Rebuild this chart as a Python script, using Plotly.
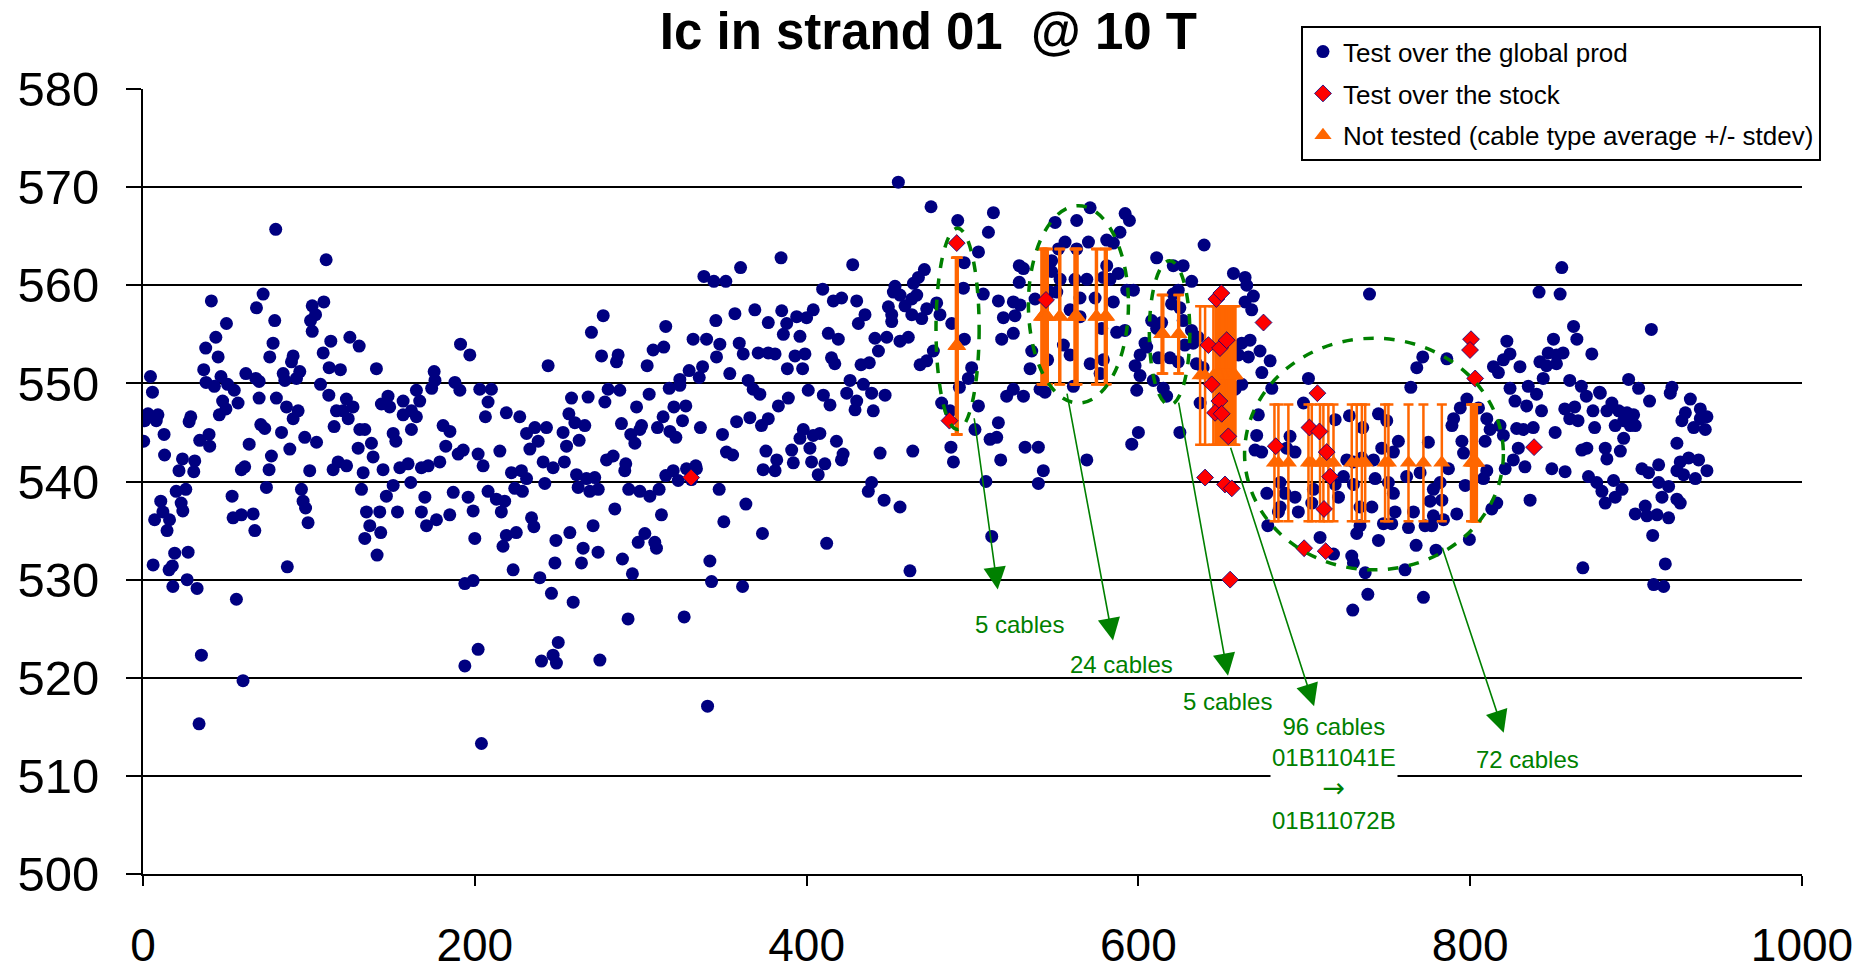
import plotly.graph_objects as go

# ---------------- data ----------------
# Test over the global prod (x = cable index, y = Ic [A]), by x-range
prod_a = [(80,565.7),(110.4,562.6),(41.2,558.4),(72.4,559.1),(68.4,557.7),(50.3,556.1),(79.4,556.4),(102,557.9),(104,557),(101,556.4),(102,555.3),(109,558.3),(43.9,554.7),(37.8,553.6),(45.3,552.7),(78.4,554.1),(76.4,552.7),(90.5,552.8),(89.5,552.2),(113.2,554.3),(108.6,553.1),(112.2,551.6),(36.6,551.4),(4.5,550.7),(5.7,549.1),(38,550.1),(43,549.7),(47,550.7),(51,549.9),(55,549.3),(62,551),(68,550.5),(70,550.2),(84.5,551),(85.5,550.3),(94.5,551.2),(92.5,550.5),(107,549.9),(112,548.8),(70,548.5),(48,548.2),(50,547.4),(46,546.8),(57.3,548),(80.4,548.5),(86.5,547.6),(93.5,547.2),(90.5,546.4),(116.6,547.2),(115.2,545.6),(3,546.9),(1,546.2),(9,546.8),(8,546.2),(28.8,546.6),(27.8,546.1),(0.4,544.1),(12.7,544.8),(34.2,544.2),(39.8,544.8),(40.2,543.6),(71,545.8),(73.4,545.4),(83.5,545),(64,543.8),(88.5,543.3),(97.5,544.5),(104.6,544),(77.4,542.6),(76,541.2),(13,542.7),(23.8,542.3),(31.2,542.1),(21.7,541.1),(30.6,541),(59.3,541.2),(61.3,541.5),(100.5,541.1),(114.6,541.2),(117.6,542),(74.4,539.4),(20,539),(25.8,539.2),(10.7,538),(23,537.8),(24,537),(7,536.1),(12,536.9),(16,536.1),(14.5,535),(53.7,538.5),(54.3,536.3),(59.3,536.6),(66.4,536.7),(67.4,535),(95.5,539.2),(96.5,538),(98,537.3),(99.5,535.8),(19.1,532.7),(27.2,532.8),(6.1,531.5),(15.7,531),(17.7,531.4),(87,531.3),(18,529.3),(26.6,530),(32.6,529.1),(56.3,528),(35.2,522.3),(60.3,519.7),(33.8,515.3),(119,551.4),(122.6,548.4),(120.6,547.2),(123.7,546.4),(122.7,541.6),(124.7,554.7)]
prod_b = [(130.3,553.8),(140.7,551.5),(191.4,554),(197,552.9),(175.5,551.2),(176,550.3),(174,549.5),(244.2,551.8),(188,550.1),(191,549.3),(203,549.4),(210,549.4),(208,548.1),(126.6,547.6),(130.7,545.3),(133.7,545.3),(143.7,547.9),(147.7,548.7),(148.7,547.6),(156.8,548.2),(156.8,546.8),(161.8,547.2),(164.8,546.6),(164.8,549.3),(166.8,548.2),(161.8,545.3),(150.8,544.9),(152.4,544.1),(180.9,545.7),(185,545.1),(182.5,543.6),(206.4,546.6),(219,547),(227.1,546.6),(231.2,544.9),(236.2,545.5),(243.2,545.5),(215.1,543.1),(129.7,543.4),(137.7,543.9),(138.7,542.5),(190,542.8),(193,543.2),(202,542.8),(205,541.6),(178.9,542),(171.9,541.6),(167.8,541.4),(154.8,541.4),(159.8,541.8),(132.7,540.9),(144.7,541.2),(233.2,543.3),(238.2,544.1),(222.1,540.9),(228.1,541.1),(231.2,540.3),(241.2,542),(247.2,541.4),(131.7,539.2),(150.8,539.6),(146.7,538.5),(161.4,539.9),(187,538.9),(196,538.4),(199,537),(208,539),(213,538.2),(218,538),(216,536.9),(224.1,539.3),(228.7,539),(242.2,539.8),(169.9,538.4),(167.8,536.9),(170.9,535.5),(176.9,536.1),(184.9,536.6),(134.7,536.9),(136.7,535.5),(142.7,536.9),(153.4,536.9),(133.7,534.2),(143.3,534.8),(141.1,532.5),(200,534.2),(234.2,536.3),(235.6,535.4),(219,534.5),(225,534.8),(217,533.4),(248.9,534),(248.3,531.7),(223.1,531),(239.2,530.2),(246.2,528.6),(194,529.6),(199,529.9),(202,522.9),(194,521.2),(240.2,521.7),(247.2,522.3),(250.3,523.6),(249.2,521.5),(204,513.3)]
prod_c = [(360.2,561.8),(338.1,560.9),(344.1,560.4),(351.3,560.4),(277.4,556.9),(270.3,555.2),(315.1,555.8),(356.8,557.1),(368.8,557.5),(376.9,556.2),(345.3,556.4),(331.6,554.5),(339.7,554.5),(347.7,554),(359.4,554.1),(361.8,553),(370.8,553.1),(376.9,553.1),(307.5,553.4),(313.9,553.7),(276.4,552.8),(286.4,552.9),(285.4,552.2),(303.9,551.8),(345.7,552.7),(329.2,551.3),(337.3,551.7),(335.3,550.6),(353.7,551),(323.6,550.4),(323.6,549.8),(317.2,549.5),(364.8,550.3),(367.8,549.4),(371.8,548.9),(280.4,549.4),(287.4,549.3),(278.4,548.1),(305.1,548.9),(258.3,548.5),(268.3,548.6),(297.5,547.6),(320,547.6),(327.2,547.7),(256.7,546.9),(313.5,546.6),(325.2,546.2),(365.8,546.5),(357.8,546.1),(372.8,545.7),(376.9,546.4),(260.3,546),(266.3,545.7),(288.4,545.9),(300.5,545.7),(299.5,545.3),(310.1,545.5),(317.6,545.1),(321.2,544.5),(336,545.5),(349.3,544.8),(253.2,545),(262.9,544.2),(294,544.8),(296.5,543.9),(255.3,543.6),(375.5,543.1),(351.7,543),(355.4,542.7),(279.4,542.2),(283.4,542.6),(291,541.8),(290.4,541.1),(254,542),(373.8,541.2),(319.6,541.1),(315.1,540.6),(322.6,540.1),(327.6,541.3),(333.2,541.6),(333.6,541.3),(330.6,540.2),(261.3,540.7),(267.3,540.3),(272.3,540.4),(262.3,539.4),(269.3,539),(274.4,539.2),(292.8,539.2),(299.5,539),(305.5,538.5),(311.1,539.2),(347.3,539.2),(363.4,537.7),(284.4,537.2),(312.5,536.6),(350.1,535.9),(271.3,535.5),(373.4,534.7),(257.3,534.8),(265.3,533.2),(264.3,531.7),(274.3,532.8),(298.5,533.8),(302.5,534.7),(308.5,533.8),(309.5,533.2),(289,532.1),(295,530.6),(341.7,531.9),(342.7,529.8),(361.4,529.3),(259.3,527.7),(292.4,526),(326.2,526.2),(275.4,521.8),(340.3,517.1)]
prod_d = [(455.3,570.5),(475,568),(491.1,566.6),(384.6,562.8),(427.8,562.1),(409.7,559.6),(471,561.6),(467.4,560.8),(464.4,560.2),(466.4,559),(463.4,558.6),(453.3,559.9),(452.3,559.3),(456.3,559),(459.3,557.9),(463.4,557),(469.4,556.6),(472.4,557.6),(478.4,558.2),(480.4,557),(449.3,557.8),(451.3,557),(451.3,556.3),(416.1,558.4),(421.1,558.7),(430.2,558.4),(404,557.5),(400,556.7),(394,556.8),(388,556.1),(386,555),(385,557.4),(435.2,557),(431.2,556.1),(396,554.8),(413.1,555.1),(419.1,554.5),(441.2,554.6),(448.3,554.7),(443.3,553.3),(456.3,554.3),(461.3,554.7),(381,553),(399,553),(393,552.8),(415,552.6),(417,552),(432.8,551.9),(437.8,552.1),(388.4,551.5),(397.6,551.5),(468.4,551.9),(472.4,552.3),(476.4,553.3),(487.5,556.1),(495.1,554.5),(495,562.3),(494.5,559.7),(503.6,563.4),(499.5,551.6),(497.5,550.5),(492.1,549.6),(383,547.7),(389,548.5),(401,549.3),(410.1,548.8),(414.1,547.8),(426.2,550.3),(424.2,549),(430.2,548.2),(434.2,549.9),(429.2,547.3),(439.2,549),(447.3,548.8),(440.2,547.2),(481.4,548),(486.5,547.2),(503.6,547.7),(501.5,545.3),(398,545.3),(396,544.4),(404,544.7),(408,544.9),(402,543.4),(418,544.1),(422,542.8),(421,542.2),(382,542.2),(381,541.1),(391,543.2),(392,541.9),(403,542),(407,540.7),(411,541.8),(444.3,542.9),(464,543.1),(487,543.5),(488.5,542),(439.2,539.9),(437.2,539),(446.7,538.1),(456.3,537.4),(412.1,533.7),(462.3,530.9)]
prod_e = [(512.6,567.4),(509.6,565.4),(506.5,559.1),(515.6,558.4),(524.6,558.3),(528.7,558),(518.6,556.7),(525.6,556.9),(517.6,554.5),(524.6,555.1),(510.6,544.3),(514.6,544.5),(515.6,546),(517,542.2),(508.1,540),(511.6,534.4),(528.2,562),(530.7,561.7),(528.2,560.3),(520.6,548.7),(524.6,549.4),(530.7,548.7),(540.7,549.4),(543.7,549.1),(531.7,543.5),(539.7,543.5),(542.7,541.1),(539.7,539.8),(568.9,542.2),(537.7,558.6),(535.7,553.3),(534.7,551.5),(545.3,552.4),(549.8,566.4),(562.8,566.6),(570.9,567.9),(592,567.3),(594.6,566.6),(555.8,564.4),(551.8,563.7),(562.8,563.7),(569.9,564.4),(580.9,564.6),(584.9,564.3),(588.9,565.4),(547.7,562.5),(547.7,561.4),(552.8,560.6),(561.8,560.6),(568.9,560.6),(578.9,560.8),(582.9,560.6),(580.9,562),(587.9,561.2),(593,559.5),(597,559.5),(584.9,558.3),(573.9,558.7),(564.8,558.7),(558.8,557.5),(564.8,556.8),(546.7,559.3),(550.8,559.3),(577.9,555.6),(586.9,555.2),(591.9,555.4),(554.8,553.9),(558.8,552.9),(570.9,552),(576.9,551),(578.9,552.4),(560.8,549.7),(599,549.3),(601,550.8),(598,551.8),(604,554.1),(601,552.9),(600,545),(596,543.8),(611,562.8),(608,556.4),(611,555.6),(614,556.2),(605,553.7),(612,552.6),(619,552.6),(609,550.3),(615,549.5),(617,548.7),(621,562),(627,562),(621,559.1),(620,558.1),(624,559.5),(625,557.7),(627,556.4),(624,552.2),(625,545)]
prod_f = [(639.6,564.1),(632.1,560.4),(657.3,561.2),(664.3,560.8),(665.3,560),(669.3,558.9),(664.3,558.3),(668.3,557.5),(739.3,559.1),(632,555.4),(628,553.9),(633,554.1),(636,554.7),(635,552),(639,551.6),(637.2,548),(657.3,553.8),(662.3,554.1),(667.3,554.4),(660.3,552.9),(666.3,552.7),(673.3,553.3),(679.4,552.3),(674.4,551.1),(680.4,549.5),(658.3,549.4),(662.3,549.9),(672.3,546.8),(671.3,544.7),(670.3,543.2),(674.3,543),(702.5,550.5),(699.5,548),(691.4,544.6),(689.4,543.4),(694.4,543),(718.6,546.3),(727.2,546.7),(735.2,545.5),(744.7,546.9),(749.7,546.2),(746.7,543.4),(753.7,543),(756.7,544.1),(725.6,542.2),(729.6,542),(734.7,542.4),(741.7,542.2),(685.4,539.9),(688.4,538.8),(694.4,538.4),(696.4,536.9),(685.4,537.4),(684.4,536.9),(677.4,538.8),(705.5,539.2),(704.5,537.8),(718.6,539.7),(720.6,538.4),(723.6,540.5),(729.6,539.7),(733.6,537.4),(740.7,537.4),(742.7,540.3),(750.7,539.9),(753.7,538.8),(747.7,535.7),(752.7,535.7),(744.7,534),(731.6,534.7),(733.6,535.5),(678,535.5),(709.5,534.3),(717.6,532.6),(728.6,532.4),(729.6,531.7),(736.7,530.7),(738.3,528.5),(729.2,526.9)]
prod_g = [(855.2,561.8),(841.5,559.3),(854.2,559.1),(862.3,555.8),(864.3,554.5),(850.2,554.5),(873.3,553),(822.1,554.3),(824,553),(820,552.4),(830,551.7),(814,551.7),(817,551.1),(847,553.1),(852,552.9),(856,553.1),(842,552.2),(846,551.8),(852,552),(844,550.5),(860,550.3),(867,549.7),(870,548.7),(878,549.1),(824,549.5),(827,548.2),(834,547.7),(835,549.7),(840,548.9),(843,547.2),(857,547.4),(863,547.6),(860,546.4),(865,546.2),(874,547.2),(875,545.5),(851.2,545),(828,545.4),(832,545.3),(838,545.5),(829,543.4),(833,541.5),(826,542.2),(821.1,541.3),(849.2,541.3),(857.2,541),(867.3,543.2),(870.3,543.4),(871.3,540.5),(876.3,539.9),(836.1,538.1),(867.9,531.2),(764.2,549.6),(771.4,552.7),(767.8,551.6),(785.9,552.5),(798,548.4),(794,547.5),(805,547.5),(789,545.7),(790,546.4),(795,544.1),(796,542.9),(810,546.4),(812,545.3),(809,544.1),(820,544.7),(818,545.7),(774.8,544),(761.7,540.5),(769.8,540.9),(777.8,539.2),(781.9,539.9),(786.9,541.3),(797,539.6),(810,541.1),(808,540.3),(754.7,536.9),(765.8,536.9),(762.8,535.3),(775.8,538),(782.9,538.1),(777.8,536.5),(783.9,536.1),(791.9,536.7),(776.8,535.5),(772.8,535.5),(816,537.8),(813,537.2),(767.4,533.5),(779.4,533),(799.5,534.1),(760.7,531),(771.8,528.2)]
prod_h = [(909.2,555.5),(895.5,550.4),(901.5,549.5),(908.1,548.2),(921.6,549.6),(920.6,549),(932.7,548.4),(938.7,547.4),(942.7,546.6),(929.7,547),(927.6,546.2),(934.7,545.5),(941.7,545.3),(938.7,546.4),(878.4,549),(885.4,548),(882.4,547.2),(889.5,547.2),(894.5,547),(898.5,546.8),(887.4,545.7),(892.5,546.2),(896.5,545.7),(899.5,545.7),(892.5,544.4),(881.4,543.4),(882.4,542.3),(890.5,543.1),(924.6,543.9),(903.5,541.3),(907.5,540.9),(913.6,541.7),(924.6,541.1),(926.6,542),(931.7,542.4),(937.7,542.2),(942.7,541.1),(928.6,540.7),(935.7,540.3),(913.6,539.9),(919.6,539.5),(915.6,538.4),(924.6,538.2),(926.6,537.8),(886.4,540.1),(891.5,539.2),(879.4,539),(881.4,537.8),(887.4,538.4),(905.5,537.5),(899.5,536.7),(906.5,536.5),(912.6,536.6),(919.6,536.3),(910,534.5),(917.6,531.6),(910.6,529.5),(916.6,529.3)]

# Test over the stock
stock_x = [330.4, 490.5, 486.1, 544.3, 647, 650, 675.4, 642.2, 649.2, 653.2, 644.2, 648.8, 646.2, 650.2, 654.2, 640.2, 652.2, 656.3, 655.3,
           682.8, 707.9, 703.1, 709.1, 713.5, 715.6, 711.9, 699.9, 712.9, 800.5, 799.9, 803, 838.5]
stock_y = [540.4, 564.3, 546.2, 558.5, 558.6, 559.2, 556.2, 553.9, 553.6, 554.4, 549.9, 548.2, 547.0, 546.9, 544.6, 540.4, 539.7, 539.3, 530.0,
           543.6, 549.0, 545.5, 545.1, 543.0, 540.5, 537.2, 533.2, 532.9, 554.5, 553.4, 550.5, 543.5]

# Not tested: cable type average +/- stdev, one value per cable group
grp1_x = [490.0, 490.5, 491.0, 490.5, 491.0]                       # 5 cables
grp2_x = [541.7, 541.7, 542.2, 542.7, 543.5, 544.5, 545.3, 545.3, 552.4, 552.4, 552.9,
          561.5, 562.0, 562.4, 562.4, 562.9, 563.3, 574.5, 574.5, 575.0, 579.9, 579.9, 580.4, 580.9]  # 24 cables
grp3_x = [614.0, 614.5, 615.0, 624.0, 624.5]                       # 5 cables
grp4_x = [637.2, 640.2, 645.2, 646.5, 647.5, 648.5, 649.5, 650.5, 651.5, 652.5, 653.5, 654.5, 655.5, 656.5, 657.5, 658.5]  # 96 cables
grp5_x = [682.0, 684.4, 690.4, 702.5, 704.5, 709.5, 711.5, 714.5, 717.6, 728.6, 731.6, 734.7, 736.7,
          748.7, 750.7, 762.8, 771.8, 782.9, 800.5, 801.5, 802.5, 803.5, 804.0]  # 72 cables
grp_mean = [553.8, 556.8, 555.0, 550.8, 541.9]
grp_sd = [9.0, 6.9, 4.0, 7.05, 5.95]

title_text = "Ic in strand 01  @ 10 T"
legend_names = ["Test over the global prod", "Test over the stock", "Not tested (cable type average +/- stdev)"]
y_ticks = [500, 510, 520, 530, 540, 550, 560, 570, 580]
x_ticks = [0, 200, 400, 600, 800, 1000]

# ellipses around the untested groups: (x0, x1, y0, y1)
ellipses = [(478, 504, 545.3, 565.8), (533.7, 594, 548, 568.1), (606.6, 631, 547.8, 562.5), (664, 820, 531, 554.6)]
# arrows (tail x, tail y, head x, head y) and labels (x, y, text)
arrows = [(500.9, 546.6, 515.2, 529.0), (556.8, 549.1, 584.7, 523.8), (624.1, 548.2, 654.0, 520.2),
          (655.3, 543.6, 705.9, 517.1), (782.9, 533.4, 820.2, 514.4)]
ARROW_SPAN = '<span style="font-family:DejaVu Sans;font-size:27px">→</span>'
labels = [(528.4, 525.4, "5 cables"), (589.7, 521.3, "24 cables"), (654.0, 517.6, "5 cables"),
          (717.7, 510.2, "96 cables<br>01B11041E<br>" + ARROW_SPAN + "<br>01B11072B"), (834.3, 511.65, "72 cables")]

# ---------------- figure ----------------
NAVY = "#000080"
RED = "#FF0000"
ORANGE = "#FF6600"
GREEN = "#008000"
FONT = "Liberation Sans, Arial, sans-serif"

prod = prod_a + prod_b + prod_c + prod_d + prod_e + prod_f + prod_g + prod_h
fig = go.Figure()
fig.add_trace(go.Scatter(x=[p[0] for p in prod], y=[p[1] for p in prod], mode="markers",
                         name=legend_names[0], legendgroup="g1", legendrank=1,
                         marker=dict(symbol="circle", size=13, color=NAVY)))

nt_x, nt_y, nt_e = [], [], []
for gx, m, s in zip([grp1_x, grp2_x, grp3_x, grp4_x, grp5_x], grp_mean, grp_sd):
    nt_x += gx
    nt_y += [m] * len(gx)
    nt_e += [s] * len(gx)
fig.add_trace(go.Scatter(x=nt_x, y=nt_y, mode="markers", name=legend_names[2],
                         legendgroup="g3", legendrank=3,
                         marker=dict(symbol="triangle-up", size=15, color=ORANGE),
                         error_y=dict(type="data", array=nt_e, visible=True, color=ORANGE,
                                      thickness=2.5, width=5)))
fig.add_trace(go.Scatter(x=stock_x, y=stock_y, mode="markers", name=legend_names[1],
                         legendgroup="g2", legendrank=2,
                         marker=dict(symbol="diamond", size=13, color=RED,
                                     line=dict(color=NAVY, width=0.8))))

for (x0, x1, y0, y1) in ellipses:
    fig.add_shape(type="circle", xref="x", yref="y", x0=x0, x1=x1, y0=y0, y1=y1,
                  line=dict(color=GREEN, width=3.5, dash="dash"), layer="above")

for (tx, ty, hx, hy) in arrows:
    fig.add_annotation(x=hx, y=hy, ax=tx, ay=ty, xref="x", yref="y", axref="x", ayref="y",
                       text="", showarrow=True, arrowhead=2, arrowsize=2.8, arrowwidth=1.6,
                       arrowcolor=GREEN)
for (lx, ly, lt) in labels:
    fig.add_annotation(x=lx, y=ly, xref="x", yref="y", text=lt, showarrow=False,
                       font=dict(family=FONT, size=24, color=GREEN),
                       bgcolor="white" if "<br>" in lt else "rgba(0,0,0,0)")

fig.update_layout(
    width=1868, height=973,
    paper_bgcolor="white", plot_bgcolor="white",
    margin=dict(l=143, r=66, t=89, b=99, pad=0),
    title=dict(text=title_text, x=0.497, xanchor="center", y=0.968, yanchor="middle",
               font=dict(family=FONT, size=51, color="black", weight="bold")),
    legend=dict(x=0.698, y=1.08, xanchor="left", yanchor="top", traceorder="grouped",
                tracegroupgap=5,
                bgcolor="white", bordercolor="black", borderwidth=2,
                font=dict(family=FONT, size=26, color="black")),
    showlegend=True,
)
fig.update_xaxes(range=[0, 1000], tickvals=x_ticks, showgrid=False, zeroline=False, automargin=False,
                 showline=True, linecolor="black", linewidth=2, ticks="outside", ticklen=10,
                 tickwidth=2, tickcolor="black", ticklabelstandoff=20,
                 tickfont=dict(family=FONT, size=46, color="black"))
fig.update_yaxes(range=[500, 580], tickvals=y_ticks, showgrid=True, gridcolor="black", gridwidth=2,
                 zeroline=False, showline=True, linecolor="black", linewidth=2, ticks="outside",
                 automargin=False,
                 ticklen=15, tickwidth=2, tickcolor="black", ticklabelstandoff=17,
                 tickfont=dict(family=FONT, size=49, color="black"))

fig.write_html("out.html")
